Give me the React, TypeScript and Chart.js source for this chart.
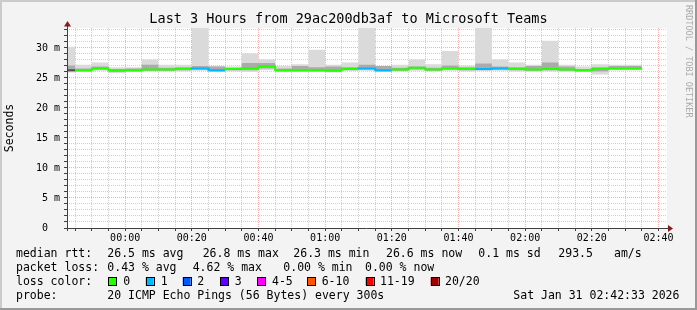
import React, { useEffect, useRef } from 'react';
import { Chart, registerables } from 'chart.js';

Chart.register(...registerables);

// ---- data (minutes relative to 00:00, each value is a 5-minute bin ending at binEnd) ----
const stepMinutes = 5;
const binEnd = [-15, -10, -5, 0, 5, 10, 15, 20, 25, 30, 35, 40, 45, 50, 55, 60, 65, 70, 75, 80, 85, 90, 95, 100, 105, 110, 115, 120, 125, 130, 135, 140, 145, 150, 155];
const maxRtt = [27.3, 30.2, 27.2, 27.6, 26.8, 26.8, 28.1, 27.2, 27.2, 33.4, 27.0, 26.9, 29.1, 28.1, 27.0, 27.3, 29.7, 27.2, 27.6, 33.4, 27.0, 27.2, 28.1, 27.3, 29.5, 27.1, 33.4, 28.1, 27.6, 27.2, 31.2, 27.2, 26.9, 27.3, 27.2];
const innerHi = [26.9, 27.1, 26.6, 26.9, 26.5, 26.6, 27.2, 26.7, 26.8, 27.0, 26.9, 26.7, 27.5, 27.5, 26.6, 27.0, 26.8, 26.9, 26.8, 27.2, 27.0, 26.7, 26.9, 26.7, 27.1, 26.8, 27.4, 26.9, 26.8, 27.0, 27.6, 26.9, 26.5, 26.8, 27.0];
const medianRtt = [26.6, 26.3, 26.3, 26.6, 26.3, 26.3, 26.4, 26.4, 26.5, 26.6, 26.3, 26.5, 26.6, 26.9, 26.3, 26.3, 26.3, 26.3, 26.5, 26.6, 26.3, 26.4, 26.7, 26.4, 26.6, 26.5, 26.5, 26.6, 26.5, 26.4, 26.5, 26.4, 26.3, 26.5, 26.6];
const innerLo = [26.4, 26.1, 26.1, 26.4, 26.0, 26.1, 26.2, 26.2, 26.3, 26.4, 26.1, 26.3, 26.3, 26.6, 26.1, 26.1, 26.1, 26.0, 26.3, 26.4, 26.1, 26.2, 26.4, 26.2, 26.4, 26.3, 26.3, 26.4, 26.3, 26.2, 26.3, 26.2, 26.1, 26.1, 26.4];
const minRtt = [26.1, 25.9, 26.0, 26.2, 25.8, 26.0, 26.1, 26.1, 26.1, 26.2, 26.0, 26.1, 26.0, 26.3, 26.0, 26.0, 26.0, 25.9, 26.2, 26.2, 26.0, 26.1, 26.2, 26.1, 26.2, 26.1, 26.2, 26.2, 26.1, 26.0, 26.1, 26.0, 26.0, 25.6, 26.3];
const lossCount: (number | null)[] = [null, 0, 0, 0, 0, 0, 0, 0, 1, 1, 0, 0, 0, 0, 0, 0, 0, 0, 1, 1, 0, 0, 0, 0, 0, 1, 1, 0, 0, 0, 0, 0, 0, 0, 0];

const lossLabels = ['0', '1', '2', '3', '4-5', '6-10', '11-19', '20/20'];
const lossColors = ['#26ff00', '#00b8ff', '#0059ff', '#5e00ff', '#ff00ff', '#ff5500', '#ff0000', '#a00000'];
const lossUpper = [0, 1, 2, 3, 5, 10, 19, 20];

const xMin = -17.45;
const xMax = 162.55;
const yMax = 33.33;
const xGridMinutes = [-15, -10, -5, 0, 5, 10, 15, 20, 25, 30, 35, 40, 45, 50, 55, 60, 65, 70, 75, 80, 85, 90, 95, 100, 105, 110, 115, 120, 125, 130, 135, 140, 145, 150, 155, 160];
const yGridValues = [0, 1, 2, 3, 4, 5, 6, 7, 8, 9, 10, 11, 12, 13, 14, 15, 16, 17, 18, 19, 20, 21, 22, 23, 24, 25, 26, 27, 28, 29, 30, 31, 32, 33];

const titleText = 'Last 3 Hours from 29ac200db3af to Microsoft Teams';
const yTitle = 'Seconds';
const sideText = 'RRDTOOL / TOBI OETIKER';
const line1 = [['median rtt:', 16], ['26.5 ms avg', 107.3], ['26.8 ms max', 202.7], ['26.3 ms min', 293.3], ['26.6 ms now', 386], ['0.1 ms sd', 478.3], ['293.5', 558.3], ['am/s', 614]] as [string, number][];
const line2 = [['packet loss:', 16], ['0.43 % avg', 107.3], ['4.62 % max', 192.7], ['0.00 % min', 283.3], ['0.00 % now', 365]] as [string, number][];
const lossBoxX = [108.3, 145.7, 182.7, 220, 257, 307.3, 365.7, 430.7];
const lossTextX = [123.3, 160.7, 197.3, 234.7, 272, 321.7, 380, 445];
const line4 = [['probe:', 16], ['20 ICMP Echo Pings (56 Bytes) every 300s', 107.3], ['Sat Jan 31 02:42:33 2026', 513.3]] as [string, number][];

const MONO = '"DejaVu Sans Mono", monospace';
const minorGrid = 'rgba(170,170,170,0.55)';
const majorGrid = 'rgba(235,120,120,0.6)';

function colorForLoss(l: number | null | undefined): string {
  if (l === null || l === undefined) return '#505050';
  for (let i = 0; i < lossUpper.length; i++) if (l <= lossUpper[i]) return lossColors[i];
  return lossColors[lossColors.length - 1];
}

function series(arr: number[]) {
  const pts = binEnd.map((t, i) => ({ x: t - stepMinutes, y: arr[i] }));
  pts.push({ x: binEnd[binEnd.length - 1], y: arr[arr.length - 1] });
  return pts;
}

function fmtTime(v: number) {
  const m = ((v % 1440) + 1440) % 1440;
  const h = Math.floor(m / 60);
  const mm = m % 60;
  return String(h).padStart(2, '0') + ':' + String(mm).padStart(2, '0');
}

const decor = {
  id: 'decor',
  beforeDraw(chart: any) {
    const { ctx, chartArea: a, width, height } = chart;
    ctx.save();
    ctx.fillStyle = '#f3f3f3';
    ctx.fillRect(0, 0, width, height);
    ctx.fillStyle = '#ffffff';
    ctx.fillRect(a.left, a.top, a.right - a.left, a.bottom - a.top);
    ctx.restore();
  },
  afterDraw(chart: any) {
    const { ctx, chartArea: a, width, height } = chart;
    const y0 = chart.scales.y.getPixelForValue(0);
    ctx.save();
    // axes
    ctx.strokeStyle = '#404040';
    ctx.lineWidth = 1;
    ctx.beginPath();
    ctx.moveTo(a.left - 3, Math.round(y0) + 0.5);
    ctx.lineTo(a.right + 2, Math.round(y0) + 0.5);
    ctx.moveTo(Math.round(a.left) + 0.5, a.top - 5);
    ctx.lineTo(Math.round(a.left) + 0.5, y0 + 3);
    ctx.stroke();
    // arrows
    ctx.fillStyle = '#8b1a1a';
    const lx = Math.round(a.left) + 0.5;
    ctx.beginPath();
    ctx.moveTo(lx, a.top - 7);
    ctx.lineTo(lx - 3.5, a.top - 1.5);
    ctx.lineTo(lx + 3.5, a.top - 1.5);
    ctx.closePath();
    ctx.fill();
    const by = Math.round(y0) + 0.5;
    ctx.beginPath();
    ctx.moveTo(a.right + 6, by);
    ctx.lineTo(a.right + 1, by - 3.5);
    ctx.lineTo(a.right + 1, by + 3.5);
    ctx.closePath();
    ctx.fill();

    // title
    ctx.fillStyle = '#000';
    ctx.textBaseline = 'middle';
    ctx.textAlign = 'center';
    ctx.font = '13.5px ' + MONO;
    ctx.fillText(titleText, width / 2, 19);

    // y title
    ctx.save();
    ctx.translate(10.5, 128);
    ctx.rotate(-Math.PI / 2);
    ctx.font = '11.5px ' + MONO;
    ctx.fillText(yTitle, 0, 0);
    ctx.restore();

    // side text
    ctx.save();
    ctx.translate(688, 5);
    ctx.rotate(Math.PI / 2);
    ctx.textAlign = 'left';
    ctx.fillStyle = '#aaaaaa';
    ctx.font = '8.5px ' + MONO;
    ctx.fillText(sideText, 0, 0);
    ctx.restore();

    // legend
    ctx.textAlign = 'left';
    ctx.fillStyle = '#000';
    ctx.font = '11.5px ' + MONO;
    line1.forEach(([t, x]) => ctx.fillText(t, x, 254));
    line2.forEach(([t, x]) => ctx.fillText(t, x, 268));
    ctx.fillText('loss color:', 16, 282);
    lossLabels.forEach((lab, i) => {
      ctx.fillStyle = lossColors[i];
      ctx.fillRect(lossBoxX[i], 277.5, 8, 8);
      ctx.strokeStyle = '#000';
      ctx.lineWidth = 1;
      ctx.strokeRect(Math.round(lossBoxX[i]) + 0.5, 277.5, 8, 8);
      ctx.fillStyle = '#000';
      ctx.fillText(lab, lossTextX[i], 282);
    });
    line4.forEach(([t, x]) => ctx.fillText(t, x, 296));

    // frame
    ctx.fillStyle = '#cbcbcb';
    ctx.fillRect(0, 0, width, 2);
    ctx.fillRect(0, 0, 2, height);
    ctx.fillStyle = '#999999';
    ctx.fillRect(0, height - 2, width, 2);
    ctx.fillRect(width - 2, 0, 2, height);
    ctx.restore();
  },
};

export default function App() {
  const ref = useRef<HTMLCanvasElement>(null);
  useEffect(() => {
    if (!ref.current) return;
    const smoke = { pointRadius: 0, borderWidth: 0, stepped: 'after' as const, borderColor: 'rgba(0,0,0,0)' };
    const chart = new Chart(ref.current, {
      type: 'line',
      data: {
        datasets: [
          {
            label: 'median',
            data: series(medianRtt),
            stepped: 'after',
            pointRadius: 0,
            borderWidth: 2,
            borderCapStyle: 'butt',
            fill: false,
            borderColor: '#26ff00',
            segment: { borderColor: (c: any) => colorForLoss(lossCount[c.p0DataIndex]) },
          } as any,
          { ...smoke, label: 'innerHi', data: series(innerHi), fill: '+1', backgroundColor: '#ababab' },
          { ...smoke, label: 'innerLo', data: series(innerLo), fill: false },
          { ...smoke, label: 'max', data: series(maxRtt), fill: '+1', backgroundColor: '#dadada' },
          { ...smoke, label: 'min', data: series(minRtt), fill: false },
        ],
      },
      options: {
        responsive: false,
        animation: false,
        devicePixelRatio: 1,
        layout: { padding: { left: 0, right: 30, top: 28, bottom: 0 } },
        plugins: { legend: { display: false }, tooltip: { enabled: false }, title: { display: false } },
        elements: { point: { radius: 0 } },
        scales: {
          x: {
            type: 'linear',
            min: xMin,
            max: xMax,
            afterBuildTicks: (s: any) => { s.ticks = xGridMinutes.map((v) => ({ value: v })); },
            afterFit: (s: any) => { s.height = 82; },
            grid: {
              color: (c: any) => (c.tick && c.tick.value % 20 === 0 ? majorGrid : minorGrid),
              lineWidth: 1,
              tickLength: 3,
              tickColor: '#404040',
            },
            border: { display: false, dash: [1, 1] },
            ticks: {
              autoSkip: false,
              maxRotation: 0,
              minRotation: 0,
              padding: 1,
              color: '#000',
              font: { family: MONO, size: 10 },
              callback: (v: any) => (Number(v) % 20 === 0 ? fmtTime(Number(v)) : ''),
            },
          },
          y: {
            type: 'linear',
            min: 0,
            max: yMax,
            afterBuildTicks: (s: any) => { s.ticks = yGridValues.map((v) => ({ value: v })); },
            afterFit: (s: any) => { s.width = 67; },
            grid: {
              color: (c: any) => (c.tick && c.tick.value % 5 === 0 ? majorGrid : minorGrid),
              lineWidth: 1,
              tickLength: 3,
              tickColor: '#404040',
            },
            border: { display: false, dash: [1, 1] },
            ticks: {
              autoSkip: false,
              padding: 4,
              color: '#000',
              font: { family: MONO, size: 10 },
              callback: (v: any) => {
                const n = Number(v);
                if (n % 5 !== 0) return '';
                return n === 0 ? '0  ' : n + ' m';
              },
            },
          },
        },
      } as any,
      plugins: [decor],
    });
    return () => chart.destroy();
  }, []);
  return (
    <div style={{ position: 'fixed', left: 0, top: 0, width: 697, height: 310 }}>
      <canvas ref={ref} width={697} height={310} style={{ display: 'block', width: 697, height: 310 }} />
    </div>
  );
}
